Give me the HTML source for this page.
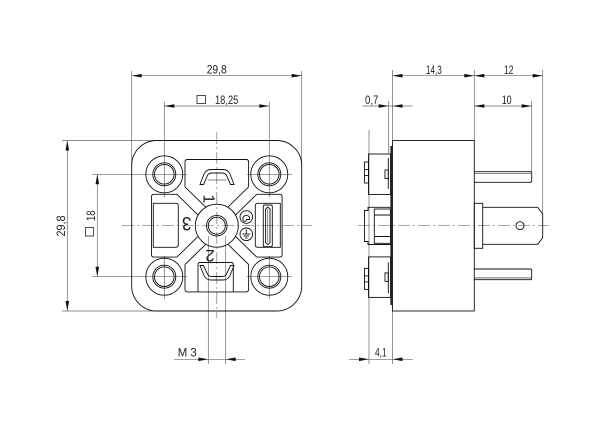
<!DOCTYPE html>
<html>
<head>
<meta charset="utf-8">
<style>
  html,body{margin:0;padding:0;background:#fff;}
  svg{display:block;}
  text{font-family:"Liberation Sans","DejaVu Sans",sans-serif;fill:#222;}
</style>
</head>
<body>
<svg width="600" height="424" viewBox="0 0 600 424" xmlns="http://www.w3.org/2000/svg">
<rect x="0" y="0" width="600" height="424" fill="#fff"/>

<!-- ================= CENTER LINES ================= -->
<g stroke="#777" stroke-width="0.7" fill="none" stroke-dasharray="12 3 2 3">
  <line x1="122" y1="225.7" x2="312" y2="225.7"/>
  <line x1="216.8" y1="132" x2="216.8" y2="318"/>
  <line x1="358" y1="225.7" x2="549" y2="225.7"/>
</g>

<!-- ================= EXTENSION / DIMENSION LINES ================= -->
<g stroke="#666" stroke-width="0.7" fill="none">
  <!-- front top -->
  <line x1="131.7" y1="71" x2="131.7" y2="166"/>
  <line x1="301.7" y1="71" x2="301.7" y2="166"/>
  <line x1="131.7" y1="75.7" x2="301.7" y2="75.7"/>
  <line x1="164.3" y1="101.7" x2="164.3" y2="197"/>
  <line x1="269.3" y1="101.7" x2="269.3" y2="197"/>
  <line x1="164.3" y1="256" x2="164.3" y2="299"/>
  <line x1="269.3" y1="256" x2="269.3" y2="299"/>
  <line x1="164.3" y1="106" x2="269.3" y2="106"/>
  <!-- front left -->
  <line x1="62" y1="140.5" x2="157" y2="140.5"/>
  <line x1="62" y1="311" x2="157" y2="311"/>
  <line x1="67.3" y1="140.5" x2="67.3" y2="311"/>
  <line x1="92" y1="174.3" x2="187" y2="174.3"/>
  <line x1="92" y1="276.7" x2="187" y2="276.7"/>
  <line x1="247" y1="174.3" x2="292" y2="174.3"/>
  <line x1="247" y1="276.7" x2="292" y2="276.7"/>
  <line x1="97.3" y1="174.3" x2="97.3" y2="276.7"/>
  <!-- M3 -->
  <line x1="208.3" y1="236" x2="208.3" y2="364"/>
  <line x1="225.7" y1="236" x2="225.7" y2="364"/>
  <line x1="174.3" y1="359.3" x2="245" y2="359.3"/>
  <!-- side top -->
  <line x1="392.5" y1="70" x2="392.5" y2="140.5"/>
  <line x1="474.3" y1="70" x2="474.3" y2="140.5"/>
  <line x1="542.7" y1="70" x2="542.7" y2="214"/>
  <line x1="531.7" y1="101" x2="531.7" y2="172"/>
  <line x1="388.7" y1="101" x2="388.7" y2="154"/>
  <line x1="392.5" y1="75.7" x2="542.7" y2="75.7"/>
  <line x1="474.3" y1="106" x2="531.7" y2="106"/>
  <line x1="362.7" y1="106" x2="412.7" y2="106"/>
  <!-- 4,1 -->
  <line x1="369" y1="130" x2="369" y2="364"/>
  <line x1="392.5" y1="311" x2="392.5" y2="364"/>
  <line x1="349" y1="359.3" x2="412.7" y2="359.3"/>
</g>

<!-- arrowheads -->
<g fill="#111" stroke="none">
  <polygon points="131.7,75.7 141.7,73.9 141.7,77.5"/>
  <polygon points="301.7,75.7 291.7,73.9 291.7,77.5"/>
  <polygon points="164.3,106 174.3,104.2 174.3,107.8"/>
  <polygon points="269.3,106 259.3,104.2 259.3,107.8"/>
  <polygon points="392.5,75.7 402.5,73.9 402.5,77.5"/>
  <polygon points="474.3,75.7 464.3,73.9 464.3,77.5"/>
  <polygon points="474.3,75.7 484.3,73.9 484.3,77.5"/>
  <polygon points="542.7,75.7 532.7,73.9 532.7,77.5"/>
  <polygon points="474.3,106 484.3,104.2 484.3,107.8"/>
  <polygon points="531.7,106 521.7,104.2 521.7,107.8"/>
  <polygon points="388.7,106 378.7,104.2 378.7,107.8"/>
  <polygon points="392.5,106 402.5,104.2 402.5,107.8"/>
  <polygon points="67.3,140.5 65.5,150.5 69.1,150.5"/>
  <polygon points="67.3,311 65.5,301 69.1,301"/>
  <polygon points="97.3,174.3 95.5,184.3 99.1,184.3"/>
  <polygon points="97.3,276.7 95.5,266.7 99.1,266.7"/>
  <polygon points="208.3,359.3 198.3,357.5 198.3,361.1"/>
  <polygon points="225.7,359.3 235.7,357.5 235.7,361.1"/>
  <polygon points="369,359.3 359,357.5 359,361.1"/>
  <polygon points="392.5,359.3 402.5,357.5 402.5,361.1"/>
</g>

<!-- dimension texts -->
<g font-size="12">
  <text x="206.7" y="73.5" textLength="20" lengthAdjust="spacingAndGlyphs">29,8</text>
  <rect x="197" y="95.5" width="8.5" height="8" fill="none" stroke="#222" stroke-width="0.8"/>
  <text x="215" y="104" textLength="23.3" lengthAdjust="spacingAndGlyphs">18,25</text>
  <text x="426" y="74" textLength="15.7" lengthAdjust="spacingAndGlyphs">14,3</text>
  <text x="504" y="74" textLength="9.5" lengthAdjust="spacingAndGlyphs">12</text>
  <text x="365" y="104" textLength="13.3" lengthAdjust="spacingAndGlyphs">0,7</text>
  <text x="501.7" y="104" textLength="10" lengthAdjust="spacingAndGlyphs">10</text>
  <text x="177.7" y="356.7" textLength="19" lengthAdjust="spacingAndGlyphs">M 3</text>
  <text x="375" y="356.7" textLength="11.7" lengthAdjust="spacingAndGlyphs">4,1</text>
  <text transform="translate(65,236.5) rotate(-90)" textLength="21" lengthAdjust="spacingAndGlyphs">29,8</text>
  <text transform="translate(95,221) rotate(-90)" textLength="10.5" lengthAdjust="spacingAndGlyphs">18</text>
  <rect x="85.5" y="227.5" width="8" height="8.5" fill="none" stroke="#222" stroke-width="0.8"/>
</g>

<!-- ================= FRONT VIEW ================= -->
<g stroke="#111" stroke-width="0.9" fill="none">
  <rect x="131.7" y="140.5" width="170" height="170.5" rx="25" ry="25"/>
  <!-- bosses -->
  <circle cx="164.3" cy="174.3" r="18.5"/>
  <circle cx="269.3" cy="174.3" r="18.5"/>
  <circle cx="164.3" cy="276.7" r="18.5"/>
  <circle cx="269.3" cy="276.7" r="18.5"/>
  <circle cx="164.3" cy="174.3" r="11.5"/>
  <circle cx="269.3" cy="174.3" r="11.5"/>
  <circle cx="164.3" cy="276.7" r="11.5"/>
  <circle cx="269.3" cy="276.7" r="11.5"/>
  <circle cx="164.3" cy="174.3" r="9.8"/>
  <circle cx="269.3" cy="174.3" r="9.8"/>
  <circle cx="164.3" cy="276.7" r="9.8"/>
  <circle cx="269.3" cy="276.7" r="9.8"/>
  <!-- hub -->
  <circle cx="216.8" cy="225.7" r="21.5"/>
  <circle cx="216.8" cy="225.7" r="10.3"/>
  <circle cx="216.8" cy="225.7" r="8.5"/>
  <!-- ribs -->
  <line x1="185" y1="186.9" x2="205.8" y2="207.2"/>
  <line x1="176.9" y1="194.3" x2="198.1" y2="215.1"/>
  <line x1="248.6" y1="186.9" x2="227.8" y2="207.2"/>
  <line x1="256.7" y1="194.3" x2="235.5" y2="215.1"/>
  <line x1="185" y1="264.5" x2="205.8" y2="244.2"/>
  <line x1="176.9" y1="257.1" x2="198.1" y2="236.3"/>
  <line x1="248.6" y1="264.5" x2="227.8" y2="244.2"/>
  <line x1="256.7" y1="257.1" x2="235.5" y2="236.3"/>
  <!-- windows -->
  <path d="M185,186.9 L185,162 Q185,159.5 187.5,159.5 L246.1,159.5 Q248.6,159.5 248.6,162 L248.6,186.9"/>
  <path d="M185,264.5 L185,289.4 Q185,291.9 187.5,291.9 L246.1,291.9 Q248.6,291.9 248.6,289.4 L248.6,264.5"/>
  <path d="M176.9,194.3 L154,194.3 Q151.5,194.3 151.5,196.8 L151.5,254.6 Q151.5,257.1 154,257.1 L176.9,257.1"/>
  <path d="M256.7,194.3 L279.6,194.3 Q282.1,194.3 282.1,196.8 L282.1,254.6 Q282.1,257.1 279.6,257.1 L256.7,257.1"/>
  <!-- inner rects -->
  <path d="M153.3,203.3 L175.8,203.3 Q178.3,203.3 178.3,205.8 L178.3,244.8 Q178.3,247.3 175.8,247.3 L153.3,247.3 Z"/>
  <path d="M280.3,203.3 L257.8,203.3 Q255.3,203.3 255.3,205.8 L255.3,244.8 Q255.3,247.3 257.8,247.3 L280.3,247.3 Z"/>
  <!-- earth slot -->
  <rect x="263.3" y="205" width="9" height="41.7" rx="1.5"/>
  <path d="M265.6,209 L267.8,207 L270,209 L270,242.7 L267.8,244.7 L265.6,242.7 Z"/>
  <line x1="267.8" y1="209" x2="267.8" y2="242.7" stroke-width="0.5"/>
  <!-- earth circles -->
  <circle cx="246.3" cy="217" r="6.3"/>
  <circle cx="246.3" cy="234.3" r="6.3"/>
  <path d="M243,219.5 A3.4,3.4 0 1 1 249.6,219.5 M243,219.5 A1.8,1.8 0 0 0 246.6,219.5 L249.6,219.5"/>
  <line x1="246.3" y1="229.5" x2="246.3" y2="234"/>
  <line x1="242.3" y1="234" x2="250.3" y2="234"/>
  <line x1="243.6" y1="236" x2="249" y2="236"/>
  <line x1="245" y1="238" x2="247.6" y2="238"/>
  <!-- top terminal -->
  <path d="M200,184.5 L204,174 Q206,169.5 211,169.5 L223,169.5 Q228,169.5 230,174 L234,184.5 L230.5,184.5 L227,176.5 Q226,173 222,173 L212,173 Q208,173 207,176.5 L203.5,184.5 Z"/>
  <line x1="207.5" y1="180" x2="226.5" y2="180" stroke-width="0.6"/>
  <!-- bottom terminal -->
  <path d="M198,291.9 L198,264.5 Q198,262.5 200,262.5 L231.3,262.5 Q233.3,262.5 233.3,264.5 L233.3,291.9"/>
  <path d="M200,265.5 L204,275.5 Q206,280 211,280 L223,280 Q228,280 230,275.5 L234,265.5 L230.5,265.5 L227,273 Q226,276.5 222,276.5 L212,276.5 Q208,276.5 207,273 L203.5,265.5 Z"/>
</g>
<!-- pin labels -->
<g font-size="19" fill="#111">
  <text transform="translate(208,198.8) rotate(90)" text-anchor="middle" dominant-baseline="central" font-size="16">1</text>
  <text transform="translate(210,255.5) rotate(180)" text-anchor="middle" dominant-baseline="central" font-size="17">2</text>
  <text transform="translate(186.7,223.5) rotate(180) scale(0.9,1)" text-anchor="middle" dominant-baseline="central">3</text>
</g>

<!-- ================= SIDE VIEW ================= -->
<g stroke="#111" stroke-width="0.9" fill="none">
  <rect x="392.5" y="140.5" width="81.8" height="170.5"/>
  <!-- pins -->
  <path d="M474.3,171.7 L530.2,171.7 Q531.7,171.7 531.7,173.2 L531.7,180.8 Q531.7,182.3 530.2,182.3 L474.3,182.3"/>
  <line x1="474.3" y1="173.5" x2="531" y2="173.5" stroke-width="0.6"/>
  <path d="M474.3,269 L530.2,269 Q531.7,269 531.7,270.5 L531.7,278.2 Q531.7,279.7 530.2,279.7 L474.3,279.7"/>
  <line x1="474.3" y1="277.9" x2="531" y2="277.9" stroke-width="0.6"/>
  <rect x="474.3" y="203.3" width="8.4" height="45"/>
  <path d="M482.7,207.3 L537.7,207.3 L542.7,214 L542.7,237.7 L537.7,244.3 L482.7,244.3"/>
  <circle cx="520" cy="225.7" r="4"/>
  <!-- upper clip -->
  <rect x="368.5" y="154" width="22" height="40.5"/>
  <rect x="364.5" y="162" width="4" height="21"/>
  <line x1="364.5" y1="169.5" x2="368.5" y2="169.5"/>
  <line x1="364.5" y1="175.5" x2="368.5" y2="175.5"/>
  <rect x="385" y="170" width="3.3" height="8.5"/>
  <line x1="388.3" y1="158" x2="388.3" y2="189"/>
  <!-- lower clip -->
  <rect x="368.5" y="256.9" width="22" height="40.5"/>
  <rect x="364.5" y="268.4" width="4" height="21"/>
  <line x1="364.5" y1="275.9" x2="368.5" y2="275.9"/>
  <line x1="364.5" y1="281.9" x2="368.5" y2="281.9"/>
  <rect x="385" y="272.9" width="3.3" height="8.5"/>
  <line x1="388.3" y1="262.4" x2="388.3" y2="293.4"/>
  <!-- middle clip -->
  <path d="M390.5,207.3 L368,207.3 L368,210.5 L364.5,210.5 L364.5,241.5 L368,241.5 L368,244.5 L390.5,244.5"/>
  <rect x="374.3" y="209" width="16.2" height="34.3"/>
  <line x1="374.3" y1="215" x2="390.5" y2="215"/>
  <line x1="374.3" y1="236.5" x2="390.5" y2="236.5"/>
</g>
<rect x="390.4" y="146" width="2.3" height="159" fill="#222"/>

</svg>
</body>
</html>
